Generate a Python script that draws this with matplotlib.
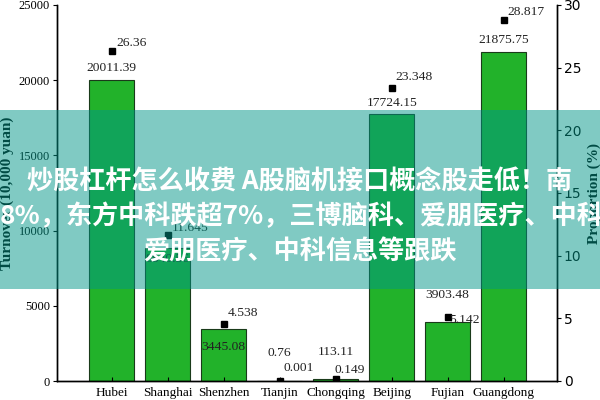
import matplotlib
matplotlib.use("Agg")
import matplotlib.pyplot as plt
from matplotlib.patches import Rectangle

# ── Data ──────────────────────────────────────────────────────────────────────
regions    = ["Hubei", "Shanghai", "Shenzhen", "Tianjin", "Chongqing", "Beijing", "Fujian", "Guangdong"]
turnover   = [20011.39, 8840.56, 3445.08, 0.76, 113.11, 17724.15, 3903.48, 21875.75]
proportion = [26.36, 11.645, 4.538, 0.001, 0.149, 23.348, 5.142, 28.817]

banner_lines = [
    "炒股杠杆怎么收费 A股脑机接口概念股走低！南",
    "8%，东方中科跌超7%，三博脑科、爱朋医疗、中科信",
    "爱朋医疗、中科信息等跟跌",
]

# label offsets (points) for turnover / proportion annotations
turn_off = [(0, 4), (0, -12), (0, -17), (0, 16), (0, 15), (0, 4), (0, 15), (0, 4)]
prop_off = [(3, 1), (3, 1), (3, 4), (3, 5), (-1, 2), (3, 4), (1, -7), (3, 1)]

SERIF = "Liberation Serif"
GREEN = "#22b22a"

# ── Figure ────────────────────────────────────────────────────────────────────
fig = plt.figure(figsize=(6, 4), dpi=100)
ax = fig.add_axes([0.095, 0.0475, 0.833, 0.94])
ax2 = ax.twinx()

x = list(range(len(regions)))
ax.bar(x, turnover, width=0.8, color=GREEN, edgecolor="#1a3a1a", linewidth=0.8)
ax.set_xlim(-0.98, 7.95)
ax.set_ylim(0, 25000)
ax.set_yticks(range(0, 25001, 5000))
ax.set_xticks(x)
ax.set_xticklabels(regions, family=SERIF, fontsize=9.5)
for lab in ax.get_yticklabels():
    lab.set_family(SERIF); lab.set_fontsize(9)
ax.tick_params(axis="x", direction="in", length=3, pad=4)
ax.tick_params(axis="y", direction="out", length=3, pad=2)
ax.set_ylabel("Turnover (10,000 yuan)", family=SERIF, fontweight="bold", fontsize=11)
ax.yaxis.set_label_coords(-0.086, 0.5)

for xi, v, off in zip(x, turnover, turn_off):
    ax.annotate(f"{v:.2f}", (xi, v), xytext=off, textcoords="offset points",
                ha="center", va="bottom", family=SERIF, fontsize=9.7, color="#222222")

ax2.plot(x, proportion, ls="none", marker="s", ms=4.5, color="black")
ax2.set_ylim(0, 30)
ax2.set_yticks(range(0, 31, 5))
ax2.tick_params(axis="y", direction="out", length=3, pad=2, labelsize=10)
ax2.set_ylabel("Proportion (%)", family=SERIF, fontweight="bold", fontsize=11)
ax2.yaxis.set_label_coords(1.062, 0.5)

for xi, v, off in zip(x, proportion, prop_off):
    ax2.annotate(f"{v:g}", (xi, v), xytext=off, textcoords="offset points",
                 ha="left", va="bottom", family=SERIF, fontsize=9.7, color="#222222")

for a in (ax, ax2):
    a.spines["top"].set_visible(False)
    for s in ("left", "right", "bottom"):
        a.spines[s].set_linewidth(1.0)

# ── Banner overlay ────────────────────────────────────────────────────────────
fig.patches.append(Rectangle((0, 0.2775), 1, 0.4475, transform=fig.transFigure,
                             facecolor="#029789", alpha=0.5, edgecolor="none", zorder=5))
cjk = ["Noto Sans CJK SC", "DejaVu Sans"]
fig.text(0.5, 1 - 182 / 400, banner_lines[0], ha="center", va="center", color="white",
         fontsize=18.8, fontweight="bold", family=cjk, zorder=6)
fig.text(0.0, 1 - 217 / 400, banner_lines[1], ha="left", va="center", color="white",
         fontsize=18.8, fontweight="bold", family=cjk, zorder=6)
fig.text(0.5, 1 - 252 / 400, banner_lines[2], ha="center", va="center", color="white",
         fontsize=18.8, fontweight="bold", family=cjk, zorder=6)

fig.savefig("out.png", dpi=100)
